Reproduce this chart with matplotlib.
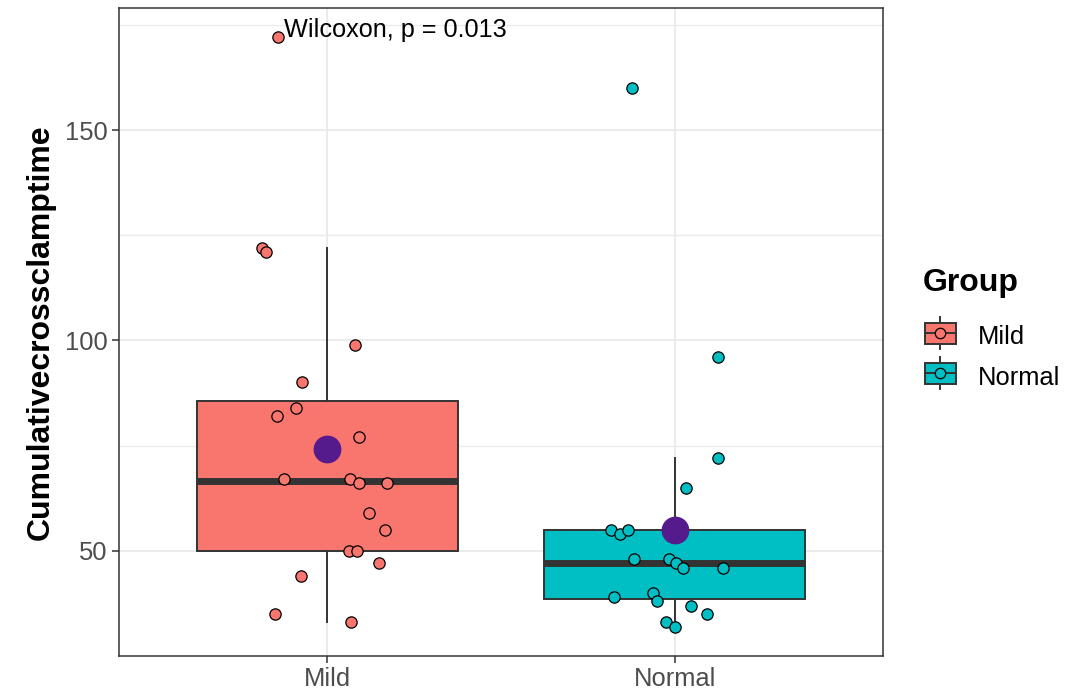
import matplotlib
matplotlib.use('Agg')
import matplotlib.pyplot as plt
import numpy as np
from matplotlib.legend_handler import HandlerBase
from matplotlib.patches import Rectangle
from matplotlib.lines import Line2D
from matplotlib.ticker import FixedLocator

plt.rcParams['font.family'] = ['Liberation Sans', 'DejaVu Sans']

# ---- data ----
groups = ['Mild', 'Normal']
mild_values = [172, 122, 121, 99, 90, 84, 82, 77, 67, 67, 66, 66, 59, 55, 50, 50, 47, 44, 35, 33]
mild_jitter = [-0.141, -0.188, -0.176, 0.080, -0.073, -0.089, -0.144, 0.092, -0.124, 0.066,
               0.092, 0.172, 0.121, 0.167, 0.063, 0.086, 0.149, -0.075, -0.152, 0.069]
normal_values = [160, 96, 72, 65, 55, 54, 55, 48, 48, 47, 46, 46, 39, 40, 38, 37, 35, 33, 32]
normal_jitter = [-0.124, 0.124, 0.124, 0.034, -0.183, -0.158, -0.134, -0.116, -0.017, 0.003,
                 0.024, 0.139, -0.174, -0.062, -0.051, 0.047, 0.094, -0.024, 0.001]
group_colors = ['#F8766D', '#00BFC4']
mean_color = '#551A8B'
y_ticks = [50, 100, 150]
y_label = 'Cumulativecrossclamptime'
legend_title = 'Group'
p_label = 'Wilcoxon, p = 0.013'
p_label_x = 0.874
p_label_y = 172

dark = '#333333'

fig = plt.figure(figsize=(10.92, 6.91), dpi=100)
ax = fig.add_axes([119 / 1092, 35 / 691, 764 / 1092, 648 / 691])

all_values = [mild_values, normal_values]
all_jitter = [mild_jitter, normal_jitter]
positions = [1, 2]

bp = ax.boxplot(all_values, positions=positions, widths=0.75, patch_artist=True,
                showfliers=False, showcaps=False, whis=1.5,
                medianprops=dict(color=dark, linewidth=5, solid_capstyle='butt'),
                boxprops=dict(edgecolor=dark, linewidth=1.4),
                whiskerprops=dict(color=dark, linewidth=1.4),
                zorder=2)
for patch, c in zip(bp['boxes'], group_colors):
    patch.set_facecolor(c)

for pos, vals, jit, c in zip(positions, all_values, all_jitter, group_colors):
    ax.scatter(np.array(jit) + pos, vals, s=66, c=c, edgecolors='black',
               linewidths=0.9, zorder=3)

means = [np.mean(v) for v in all_values]
ax.scatter(positions, means, s=400, c=mean_color, linewidths=0, zorder=4)

ax.text(p_label_x, p_label_y, p_label, ha='left', va='baseline', fontsize=18.2,
        color='black', zorder=5)

ax.set_xlim(0.4, 2.6)
ax.set_ylim(25, 179)
ax.set_xticks(positions)
ax.set_xticklabels(groups)
ax.set_yticks(y_ticks)
ax.yaxis.set_minor_locator(FixedLocator([75, 125, 175]))
ax.tick_params(axis='both', which='major', length=4.7, width=1.1, color=dark,
               labelcolor='#4D4D4D', labelsize=18.4, pad=3.5)
ax.tick_params(axis='y', which='minor', length=0)
ax.set_axisbelow(True)
ax.grid(which='major', color='#EBEBEB', linewidth=1.4)
ax.grid(which='minor', axis='y', color='#EBEBEB', linewidth=1.0)
for sp in ax.spines.values():
    sp.set_color(dark)
    sp.set_linewidth(1.1)

ax.set_ylabel(y_label, fontsize=23, fontweight='bold', color='black')
ax.yaxis.label.set_va('center')
ax.yaxis.set_label_coords(-0.102, 0.5)


class BoxKey:
    def __init__(self, color):
        self.color = color


class HandlerBoxKey(HandlerBase):
    def create_artists(self, legend, orig_handle, xdescent, ydescent, width, height,
                       fontsize, trans):
        x0, y0 = -xdescent, -ydescent
        full_h = height + ydescent
        bh = full_h * 0.66
        by = y0 + (full_h - bh) / 2
        cx = x0 + width / 2
        cy = y0 + full_h / 2
        rect = Rectangle((x0, by), width, bh, facecolor=orig_handle.color,
                         edgecolor=dark, linewidth=1.4, transform=trans)
        w1 = Line2D([cx, cx], [y0, by], color=dark, lw=1.4, transform=trans)
        w2 = Line2D([cx, cx], [by + bh, y0 + full_h], color=dark, lw=1.4, transform=trans)
        med = Line2D([x0, x0 + width], [cy, cy], color=dark, lw=1.4, transform=trans)
        dot = Line2D([cx], [cy], marker='o', markersize=7.5, markerfacecolor=orig_handle.color,
                     markeredgecolor='black', markeredgewidth=0.9, linestyle='none',
                     transform=trans)
        return [rect, w1, w2, med, dot]


fig.text(923 / 1092, 1 - 283 / 691, legend_title, ha='left', va='center',
         fontsize=23, fontweight='bold', color='black')

handles = [BoxKey(c) for c in group_colors]
leg = fig.legend(handles, groups, handler_map={BoxKey: HandlerBoxKey()},
                 loc='upper left', bbox_to_anchor=(925 / 1092, 1 - 322 / 691), frameon=False,
                 fontsize=18.4, handlelength=1.21, handleheight=1.25, handletextpad=0.86,
                 labelspacing=0.52, borderpad=0, borderaxespad=0)

fig.savefig('out.png', dpi=100)
